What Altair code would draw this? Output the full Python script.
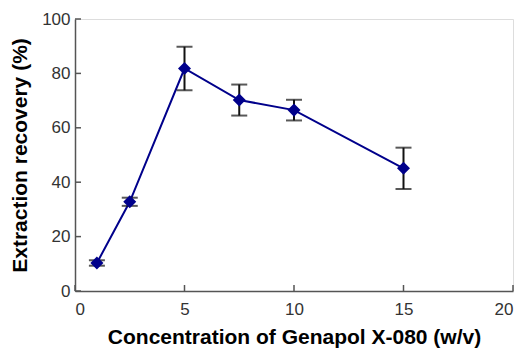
import altair as alt
import pandas as pd

conc = [1, 2.5, 5, 7.5, 10, 15]
recovery = [10.3, 32.8, 81.8, 70.2, 66.5, 45.1]
err = [1.0, 1.5, 8.0, 5.7, 3.8, 7.6]
x_ticks = [0, 5, 10, 15, 20]
y_ticks = [0, 20, 40, 60, 80, 100]

df = pd.DataFrame({"conc": conc, "rec": recovery, "err": err})
df["lo"] = df["rec"] - df["err"]
df["hi"] = df["rec"] + df["err"]

W, H = 438, 272
FONT = "Liberation Sans"

xs = alt.Scale(domain=[0, 20], nice=False)
ys = alt.Scale(domain=[0, 100], nice=False)

xaxis = alt.Axis(values=x_ticks, ticks=False, grid=False, domainColor="#555", domainWidth=1.5,
                 labelFont=FONT, labelFontSize=17, labelColor="#333", labelPadding=10,
                 title="Concentration of Genapol X-080 (w/v)", titleFont=FONT, titleFontSize=21,
                 titleFontWeight="bold", titleColor="#000", titlePadding=9)
yaxis = alt.Axis(values=y_ticks, ticks=False, grid=False, domainColor="#555", domainWidth=1.5,
                 labelFont=FONT, labelFontSize=17, labelColor="#333", labelPadding=5,
                 title="Extraction recovery (%)", titleFont=FONT, titleFontSize=21,
                 titleFontWeight="bold", titleColor="#000", titlePadding=11)

base = alt.Chart(df)

line = base.mark_line(color="#00008b", strokeWidth=2).encode(
    x=alt.X("conc:Q", scale=xs, axis=xaxis),
    y=alt.Y("rec:Q", scale=ys, axis=yaxis),
)
pts = base.mark_point(shape="diamond", filled=True, size=170, color="#00008b", opacity=1).encode(
    x=alt.X("conc:Q", scale=xs), y=alt.Y("rec:Q", scale=ys))
rule = base.mark_rule(color="#111", strokeWidth=2).encode(
    x=alt.X("conc:Q", scale=xs), y=alt.Y("lo:Q", scale=ys), y2="hi:Q")
cap_lo = base.mark_tick(color="#111", orient="horizontal", size=16, thickness=2).encode(
    x=alt.X("conc:Q", scale=xs), y=alt.Y("lo:Q", scale=ys))
cap_hi = base.mark_tick(color="#111", orient="horizontal", size=16, thickness=2).encode(
    x=alt.X("conc:Q", scale=xs), y=alt.Y("hi:Q", scale=ys))

xt = alt.Chart(pd.DataFrame({"v": x_ticks})).mark_rule(color="#555", strokeWidth=1.5).encode(
    x=alt.X("v:Q", scale=xs), y=alt.value(H), y2=alt.value(H - 6))
yt = alt.Chart(pd.DataFrame({"v": y_ticks})).mark_rule(color="#555", strokeWidth=1.5).encode(
    y=alt.Y("v:Q", scale=ys), x=alt.value(0), x2=alt.value(6))

chart = alt.layer(line, rule, cap_lo, cap_hi, pts, xt, yt).properties(
    width=W, height=H,
    autosize=alt.AutoSizeParams(type="none"),
    padding={"left": 75, "top": 19, "right": 15, "bottom": 59},
).configure_view(stroke=None).configure(background="white")

chart.save("out.html", embed_options={"renderer": "svg", "actions": False})
